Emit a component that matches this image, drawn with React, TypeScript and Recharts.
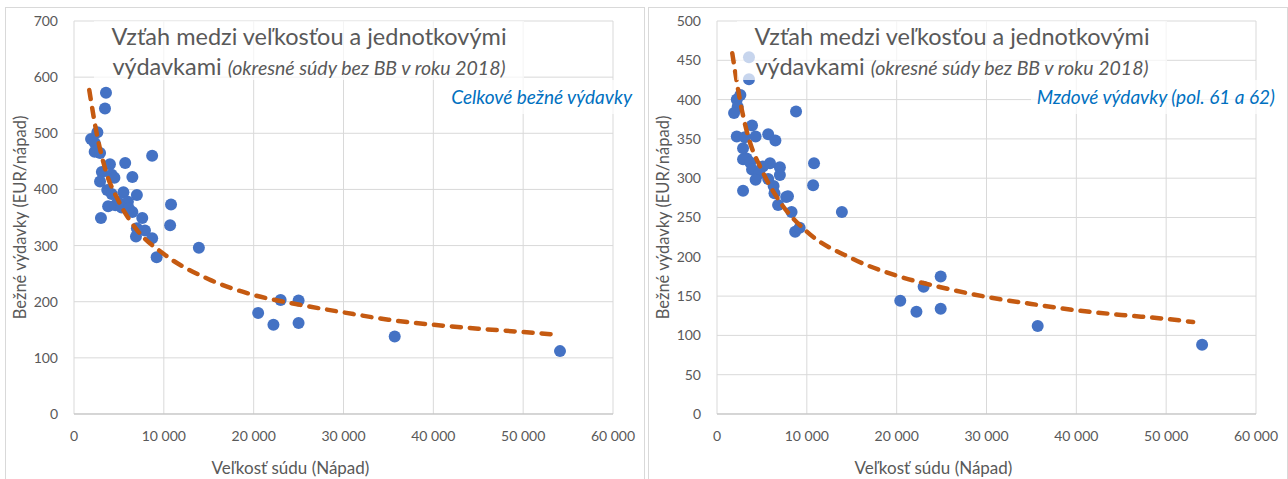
import { CartesianGrid, Scatter, ScatterChart, XAxis, YAxis } from "recharts";

// okresne sudy: velkost (napad) a celkove bezne vydavky (EUR/napad)
const totalCourtSize = [
  3560, 3450, 2600, 1900, 2300, 2300, 2900, 8700, 5700, 4000, 3100, 4200, 6500, 2900, 3700, 5500,
  4200, 7000, 4900, 6000, 3800, 4600, 10800, 6500, 3000, 7600, 10700, 7900, 7000, 8700, 6900, 13900,
  9200, 5300, 6100, 4500, 20500, 22200, 23000, 25000, 25000, 35700, 54100,
];
const totalSpending = [
  572, 544, 502, 490, 483, 467, 465, 460, 447, 445, 431, 426, 422, 414, 399, 395,
  392, 390, 378, 378, 370, 372, 373, 360, 349, 349, 336, 327, 331, 313, 316, 296,
  279, 368, 366, 421, 180, 159, 203, 202, 162, 138, 112,
];

// mzdove vydavky (pol. 61 a 62)
const wageCourtSize = [
  3560, 3560, 8800, 2600, 2200, 2300, 1900, 3900, 2200, 3100, 4300, 5700, 6500, 2900, 3300, 2900,
  3700, 5900, 7000, 5100, 3900, 7000, 4700, 5700, 4300, 2900, 6300, 6400, 7700, 7900, 6800, 10800,
  10700, 8300, 13900, 8700, 9200, 20400, 22200, 23000, 24900, 24900, 35700, 54000,
];
const wageSpending = [
  454, 426, 385, 406, 400, 391, 383, 367, 353, 352, 353, 356, 348, 338, 325, 324,
  320, 319, 314, 315, 311, 304, 306, 299, 298, 284, 290, 281, 276, 277, 266, 319,
  291, 257, 257, 232, 237, 144, 130, 162, 175, 134, 112, 88,
];

// trendy (odcitane z grafu)
const totalTrendSize = [1700, 2500, 3500, 5000, 7000, 10000, 15000, 20000, 25000, 30000, 35000, 40000, 45000, 50000, 54000];
const totalTrendValue = [577, 502, 435, 378, 328, 285, 240, 212, 195, 181, 168, 159, 152, 146, 141];
const wageTrendSize = [1700, 2800, 3500, 5000, 7000, 10000, 15000, 20000, 25000, 30000, 35000, 40000, 45000, 50000, 53000];
const wageTrendValue = [459, 385, 352, 310, 270, 232, 198, 176, 161, 149, 140, 132, 126, 121, 117];

const xTicks = [0, 10000, 20000, 30000, 40000, 50000, 60000];
const totalYTicks = [0, 100, 200, 300, 400, 500, 600, 700];
const wageYTicks = [0, 50, 100, 150, 200, 250, 300, 350, 400, 450, 500];

const FONT = "Lato, 'Open Sans', sans-serif";
const GRAY = "#595959";
const W = 640;
const H = 472;

const fmtThousands = (v: number) => String(v).replace(/\B(?=(\d{3})+(?!\d))/g, "\u00a0");

const toPoints = (xs: number[], ys: number[]) => xs.map((x, i) => ({ x, y: ys[i] }));

interface PanelProps {
  left: number;
  sizes: number[];
  values: number[];
  trendSizes: number[];
  trendValues: number[];
  yTicks: number[];
  legend: string;
}

function Panel({ left, sizes, values, trendSizes, trendValues, yTicks, legend }: PanelProps) {
  const yMax = yTicks[yTicks.length - 1];
  return (
    <div
      style={{
        position: "absolute",
        left,
        top: 7,
        width: W,
        height: H,
        borderLeft: "1px solid #d9d9d9",
        borderTop: "1px solid #d9d9d9",
        borderRight: "1px solid #d9d9d9",
        boxSizing: "border-box",
      }}
    >
      <div style={{ position: "absolute", left: -1, top: -1 }}>
        <ScatterChart width={W} height={H} margin={{ top: 14, right: 32, left: 0, bottom: 0 }}>
          <CartesianGrid stroke="#d9d9d9" />
          <XAxis
            type="number"
            dataKey="x"
            domain={[0, 60000]}
            ticks={xTicks}
            tickFormatter={fmtThousands}
            tick={{ fontSize: 14, fill: GRAY, fontFamily: FONT }}
            tickLine={false}
            tickSize={0}
            tickMargin={17}
            axisLine={{ stroke: "#bfbfbf" }}
            height={65}
            label={{
              content: (p: any) => (
                <text
                  x={p.viewBox.x + p.viewBox.width / 2 - 53}
                  y={p.viewBox.y + 53}
                  textAnchor="middle"
                  dominantBaseline="central"
                  fontSize={17}
                  fill={GRAY}
                  fontFamily={FONT}
                >
                  Veľkosť súdu (Nápad)
                </text>
              ),
            }}
          />
          <YAxis
            type="number"
            dataKey="y"
            domain={[0, yMax]}
            ticks={yTicks}
            tick={{ fontSize: 14, fill: GRAY, fontFamily: FONT }}
            tickLine={false}
            tickSize={0}
            tickMargin={16}
            axisLine={false}
            width={69}
            label={{
              content: (p: any) => {
                const cy = p.viewBox.y + p.viewBox.height / 2;
                return (
                  <text
                    x={15}
                    y={cy}
                    transform={`rotate(-90, 15, ${cy})`}
                    textAnchor="middle"
                    dominantBaseline="central"
                    fontSize={16.5}
                    fill={GRAY}
                    fontFamily={FONT}
                  >
                    Bežné výdavky (EUR/nápad)
                  </text>
                );
              },
            }}
          />
          <Scatter
            data={toPoints(sizes, values)}
            fill="#4472c4"
            isAnimationActive={false}
            shape={(p: any) => <circle cx={p.cx} cy={p.cy} r={6} fill="#4472c4" />}
          />
          <Scatter
            data={toPoints(trendSizes, trendValues)}
            isAnimationActive={false}
            line={{ stroke: "#c55a11", strokeWidth: 4.5, strokeDasharray: "9 9", strokeLinecap: "round" }}
            lineType="joint"
            lineJointType="monotoneX"
            shape={() => <g />}
          />
        </ScatterChart>
      </div>
      <div
        style={{
          position: "absolute",
          left: 88,
          top: 13,
          width: 430,
          height: 59,
          background: "rgba(255,255,255,0.7)",
          color: GRAY,
          fontFamily: FONT,
          textAlign: "center",
          lineHeight: "30px",
          whiteSpace: "nowrap",
        }}
      >
        <div style={{ fontSize: 23.5 }}>Vzťah medzi veľkosťou a jednotkovými</div>
        <div style={{ fontSize: 23.5 }}>
          výdavkami <span style={{ fontSize: 19.5, fontStyle: "italic" }}>(okresné súdy bez BB v roku 2018)</span>
        </div>
      </div>
      <div
        style={{
          position: "absolute",
          right: 6,
          top: 72,
          height: 34,
          padding: "0 6px",
          background: "rgba(255,255,255,0.7)",
          color: "#0070c0",
          fontFamily: FONT,
          fontSize: 19,
          fontStyle: "italic",
          lineHeight: "34px",
          whiteSpace: "nowrap",
        }}
      >
        {legend}
      </div>
    </div>
  );
}

export default function App() {
  return (
    <div style={{ position: "absolute", left: 0, top: 0, width: 1288, height: 479, background: "#fff", overflow: "hidden" }}>
      <Panel
        left={5}
        sizes={totalCourtSize}
        values={totalSpending}
        trendSizes={totalTrendSize}
        trendValues={totalTrendValue}
        yTicks={totalYTicks}
        legend="Celkové bežné výdavky"
      />
      <Panel
        left={648}
        sizes={wageCourtSize}
        values={wageSpending}
        trendSizes={wageTrendSize}
        trendValues={wageTrendValue}
        yTicks={wageYTicks}
        legend="Mzdové výdavky (pol. 61 a 62)"
      />
    </div>
  );
}
